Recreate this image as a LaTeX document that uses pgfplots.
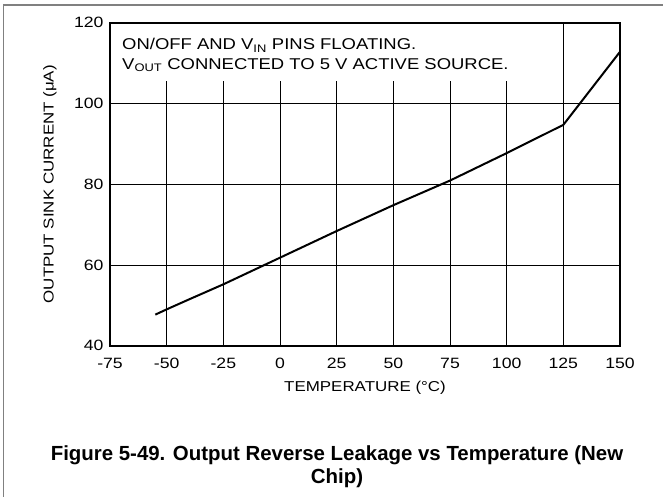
\documentclass[border=0pt]{standalone}
\usepackage{fontspec}
\setmainfont{Liberation Sans}[FakeStretch=1.18]
\newfontfamily\capfont{Liberation Sans}
\usepackage{pgfplots}
\pgfplotsset{compat=1.18}
\definecolor{framegray}{RGB}{128,128,128}

\begin{document}
\begin{tikzpicture}
\useasboundingbox (0bp,0bp) rectangle (663bp,497bp);
% page frame (only top and left edges are visible)
\draw[framegray, line width=2bp] (3bp,492bp) -- (663bp,492bp);
\draw[framegray, line width=1.2bp] (3.5bp,493bp) -- (3.5bp,0bp);

\begin{axis}[
  at={(110bp,151.3bp)}, anchor=south west,
  scale only axis, width=510bp, height=323bp,
  xmin=-75, xmax=150, ymin=40, ymax=120,
  xtick={-75,-50,...,150}, ytick={40,60,...,120},
  major tick length=0pt,
  ymajorgrids, grid style={black, line width=0.8bp},
  axis on top,
  axis line style={line width=2.2bp},
  tick label style={font=\fontsize{15}{15}\selectfont},
  /pgf/number format/assume math mode=true,
  xticklabel style={yshift=-9bp},
  yticklabel style={xshift=-3bp},
  xlabel={TEMPERATURE (°C)},
  ylabel={OUTPUT SINK CURRENT (μA)},
  every axis x label/.style={at={(axis description cs:0.5,-0.13)}, anchor=center,
    font=\fontsize{14.4}{14.4}\selectfont},
  every axis y label/.style={at={(axis description cs:-0.1176,0.5)}, rotate=90, anchor=center,
    font=\fontsize{14.4}{14.4}\selectfont},
]
% vertical grid lines stop under the note, except at 125
\pgfplotsinvokeforeach{-50,-25,0,25,50,75,100}{
  \draw[black, line width=0.8bp] (axis cs:#1,40) -- (axis cs:#1,105.6);
}
\draw[black, line width=0.8bp] (axis cs:125,40) -- (axis cs:125,120);

\addplot[black, line width=2bp, line join=round] coordinates {
  (-55,47.7) (-50,49.0) (-40,51.5) (-25,55.2) (0,61.8) (25,68.4)
  (50,74.8) (75,80.9) (100,87.7) (125,94.7) (150,112.8)
};
\end{axis}

\node[anchor=base west, inner sep=0, font=\fontsize{15.7}{15.7}\selectfont]
  at (122bp,447bp) {ON/OFF AND V\textsubscript{IN} PINS FLOATING.};
\node[anchor=base west, inner sep=0, font=\fontsize{15.7}{15.7}\selectfont]
  at (122bp,427.7bp) {V\textsubscript{OUT} CONNECTED TO 5 V ACTIVE SOURCE.};

\node[anchor=base, inner sep=0, font=\capfont\bfseries\fontsize{20.5}{20.5}\selectfont]
  at (337bp,37bp) {Figure 5-49. Output Reverse Leakage vs Temperature (New};
\node[anchor=base, inner sep=0, font=\capfont\bfseries\fontsize{20.5}{20.5}\selectfont]
  at (337bp,14bp) {Chip)};
\end{tikzpicture}
\end{document}
